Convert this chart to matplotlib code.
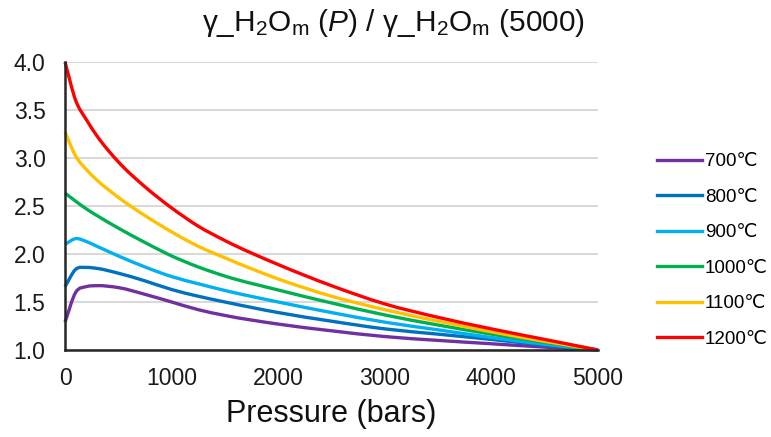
import matplotlib
matplotlib.use("Agg")
import matplotlib.pyplot as plt
from matplotlib.path import Path
from matplotlib.patches import PathPatch
from matplotlib.lines import Line2D

plt.rcParams['font.family'] = ['Liberation Sans', 'DejaVu Sans', 'Noto Sans CJK SC']
plt.rcParams['mathtext.fontset'] = 'custom'
plt.rcParams['mathtext.rm'] = 'Liberation Sans'
plt.rcParams['mathtext.it'] = 'Liberation Sans:italic'

pressure = [0, 100, 200, 300, 500, 750, 1000, 1250, 1500, 2000, 2500, 3000, 3500, 4000, 4500, 5000]

t700 = [1.29, 1.60, 1.66, 1.67, 1.65, 1.58, 1.50, 1.42, 1.36, 1.27, 1.20, 1.14, 1.10, 1.065, 1.03, 1.00]
t800 = [1.66, 1.84, 1.86, 1.85, 1.80, 1.72, 1.63, 1.56, 1.50, 1.39, 1.30, 1.22, 1.165, 1.11, 1.05, 1.00]
t900 = [2.10, 2.16, 2.13, 2.08, 1.98, 1.865, 1.765, 1.69, 1.62, 1.50, 1.39, 1.29, 1.21, 1.13, 1.06, 1.00]
t1000 = [2.635, 2.55, 2.47, 2.40, 2.27, 2.12, 1.98, 1.865, 1.77, 1.625, 1.49, 1.365, 1.26, 1.165, 1.08, 1.00]
t1100 = [3.27, 3.02, 2.88, 2.77, 2.59, 2.40, 2.23, 2.08, 1.96, 1.74, 1.56, 1.42, 1.30, 1.19, 1.09, 1.00]
t1200 = [4.00, 3.60, 3.40, 3.23, 2.96, 2.70, 2.48, 2.29, 2.14, 1.89, 1.67, 1.48, 1.34, 1.22, 1.11, 1.00]

labels = ["700℃", "800℃", "900℃", "1000℃", "1100℃", "1200℃"]
series = [t700, t800, t900, t1000, t1100, t1200]
colors = ["#7030A0", "#0070C0", "#00B0F0", "#00B050", "#FFC000", "#FF0000"]

xticks = [0, 1000, 2000, 3000, 4000, 5000]
yticks = [1.0, 1.5, 2.0, 2.5, 3.0, 3.5, 4.0]


def smooth_path(xs, ys):
    """Smoothed line through the points drawn as cubic Bezier (Hermite) segments."""
    n = len(xs)
    slopes = []
    for i in range(n):
        if i == 0:
            m = (ys[1] - ys[0]) / (xs[1] - xs[0])
        elif i == n - 1:
            m = (ys[-1] - ys[-2]) / (xs[-1] - xs[-2])
        else:
            h0 = xs[i] - xs[i - 1]
            h1 = xs[i + 1] - xs[i]
            d0 = (ys[i] - ys[i - 1]) / h0
            d1 = (ys[i + 1] - ys[i]) / h1
            m = (d0 * h1 + d1 * h0) / (h0 + h1)
        slopes.append(m)
    verts = [(xs[0], ys[0])]
    codes = [Path.MOVETO]
    for i in range(n - 1):
        h = xs[i + 1] - xs[i]
        c1 = (xs[i] + h / 3, ys[i] + slopes[i] * h / 3)
        c2 = (xs[i + 1] - h / 3, ys[i + 1] - slopes[i + 1] * h / 3)
        verts += [c1, c2, (xs[i + 1], ys[i + 1])]
        codes += [Path.CURVE4] * 3
    return Path(verts, codes)


fig = plt.figure(figsize=(7.71, 4.37), dpi=100)
ax = fig.add_axes([65/771, 1 - 350/437, (598 - 65)/771, (350 - 62)/437])

handles = []
for ys, c, lab in zip(series, colors, labels):
    patch = PathPatch(smooth_path(pressure, ys), facecolor='none', edgecolor=c,
                      lw=2.4, zorder=3, clip_on=False, capstyle='butt')
    ax.add_patch(patch)
    handles.append(Line2D([], [], color=c, lw=2.4, label=lab))

ax.set_xlim(0, 5000)
ax.set_ylim(1.0, 4.0)
ax.set_xticks(xticks)
ax.set_yticks(yticks)
ax.set_yticklabels([f"{v:.1f}" for v in yticks])
ax.tick_params(axis='both', length=0, labelsize=16.5, colors='#1a1a1a')
ax.tick_params(axis='x', pad=12)
ax.tick_params(axis='y', pad=14)
ax.grid(axis='y', color='#D9D9D9', lw=1.5, zorder=0)
for s in ['top', 'right']:
    ax.spines[s].set_visible(False)
for s in ['left', 'bottom']:
    ax.spines[s].set_color('#262626')
    ax.spines[s].set_linewidth(1.8)
    ax.spines[s].set_zorder(4)

ax.set_xlabel("Pressure (bars)", fontsize=22, labelpad=7, color='#111111')

fig.text(394/771, 1 - 23/437,
         r"γ_H$_2$O$_\mathrm{m}$ ($\mathit{P}$) / γ_H$_2$O$_\mathrm{m}$ (5000)",
         ha='center', va='center', fontsize=21.5, color='#111111')

leg = fig.legend(handles=handles, loc='center left', bbox_to_anchor=(657/771, 1 - 250.5/437),
                 frameon=False, fontsize=13.5, handlelength=2.4, labelspacing=0.98,
                 handletextpad=0.15, borderpad=0, borderaxespad=0)

fig.savefig("out.png", dpi=100)
